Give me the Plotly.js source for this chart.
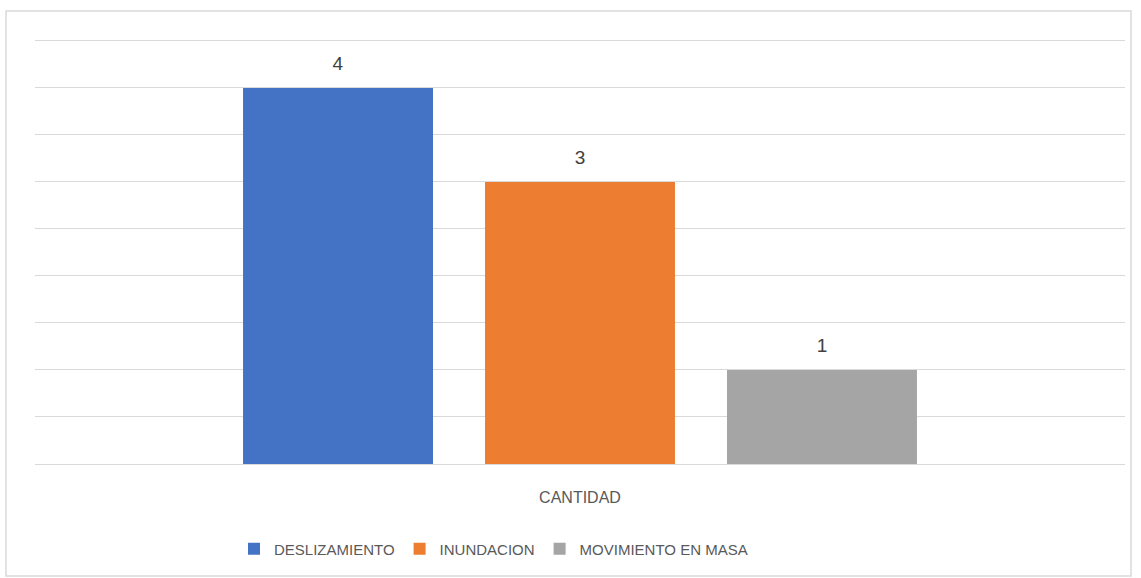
<!DOCTYPE html>
<html><head><meta charset="utf-8">
<script src="https://cdn.plot.ly/plotly-3.0.1.min.js"></script>
<style>html,body{margin:0;padding:0;background:#fff}#chart{width:1141px;height:578px}</style>
</head><body><div id="chart"></div>
<script>
const categories = ["CANTIDAD"];
const seriesNames = ["DESLIZAMIENTO", "INUNDACION", "MOVIMIENTO EN MASA"];
const deslizamiento = [4];
const inundacion = [3];
const movimiento = [1];
const colors = ["#4472C4", "#ED7D31", "#A5A5A5"];
const values = [deslizamiento, inundacion, movimiento];
const FONT = "'Liberation Sans', Arial, sans-serif";

const traces = values.map((v, i) => ({
  type: "bar",
  name: seriesNames[i],
  x: categories,
  y: v,
  marker: {color: colors[i]},
  text: v.map(String),
  texttemplate: "<span style='font-size:19px'>%{text}</span><br> ",
  textposition: "outside",
  cliponaxis: false,
  textfont: {family: FONT, size: 10, color: "#404040"},
  hoverinfo: "none"
}));

const layout = {
  width: 1141, height: 578,
  margin: {l: 35, r: 16, t: 39, b: 114},
  paper_bgcolor: "#ffffff", plot_bgcolor: "#ffffff",
  barmode: "group", bargap: 0.334, bargroupgap: 0.215,
  font: {family: FONT, size: 15, color: "#595959"},
  xaxis: {
    showgrid: false, showline: false, zeroline: false,
    ticks: "", ticklabelstandoff: 22,
    tickfont: {family: FONT, size: 16, color: "#595959"}
  },
  yaxis: {
    range: [0, 4.52], dtick: 0.5, showticklabels: false,
    showgrid: true, gridcolor: "#d9d9d9", gridwidth: 1,
    zeroline: true, zerolinecolor: "#d9d9d9", zerolinewidth: 1,
    showline: false, ticks: ""
  },
  showlegend: true,
  legend: {orientation: "h", x: (234 - 35) / 1090, xanchor: "left", y: -0.2, yanchor: "middle",
    font: {family: FONT, size: 15, color: "#595959"}, traceorder: "normal", itemwidth: 30},
  shapes: [{type: "rect", xref: "paper", yref: "paper",
    x0: (6 - 35) / 1090, x1: (1131 - 35) / 1090,
    y0: (464 - 576) / 425, y1: (464 - 11) / 425,
    line: {color: "#d9d9d9", width: 1.5}, fillcolor: "rgba(0,0,0,0)", layer: "below"}]
};
Plotly.newPlot("chart", traces, layout, {displayModeBar: false, staticPlot: true});
</script></body></html>
